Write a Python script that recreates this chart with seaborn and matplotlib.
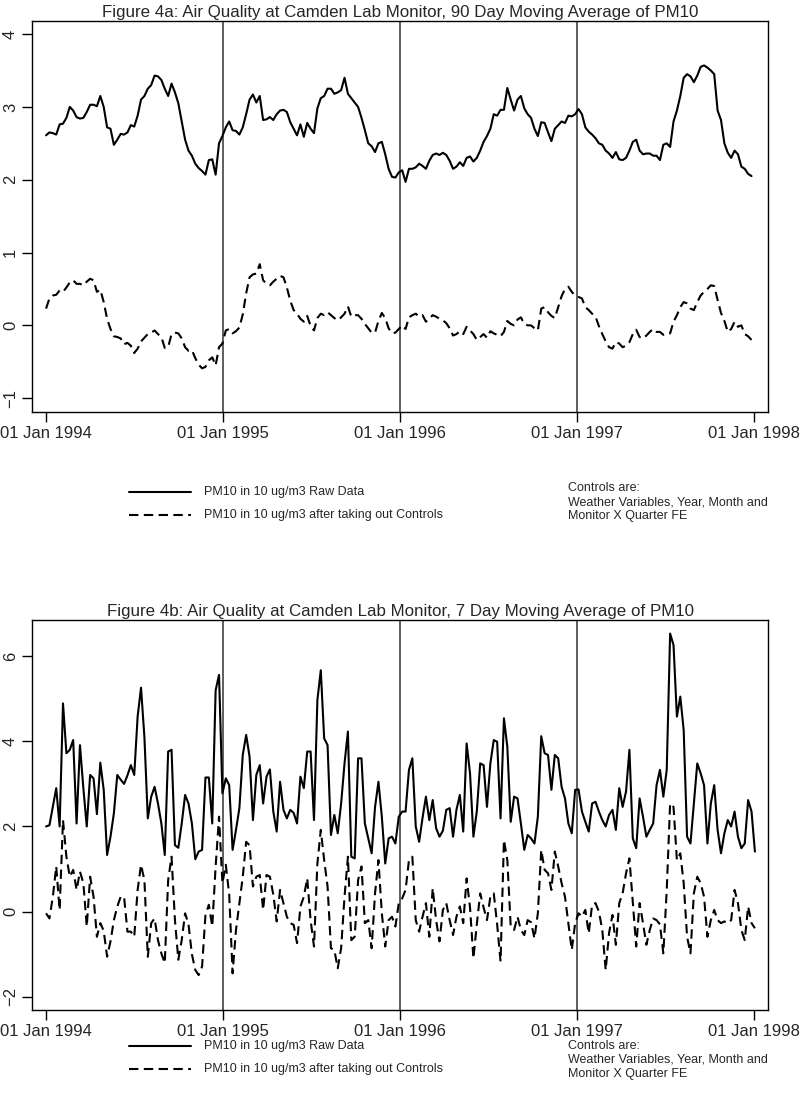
import numpy as np
import pandas as pd
import matplotlib
matplotlib.use("Agg")
import matplotlib.pyplot as plt
import matplotlib.dates as mdates
from matplotlib.lines import Line2D
import seaborn as sns

# ------------------------------------------------------------------
# Data: weekly points (PM10 in 10 ug/m3)
# ------------------------------------------------------------------
raw_90 = [
    2.61, 2.65, 2.64, 2.62, 2.76, 2.77, 2.85, 3.00, 2.95, 2.86,
    2.84, 2.85, 2.93, 3.03, 3.03, 3.01, 3.15, 3.00, 2.72, 2.70,
    2.48, 2.55, 2.63, 2.62, 2.65, 2.75, 2.73, 2.88, 3.10, 3.15,
    3.25, 3.30, 3.43, 3.42, 3.37, 3.25, 3.15, 3.32, 3.20, 3.05,
    2.80, 2.55, 2.40, 2.33, 2.22, 2.16, 2.12, 2.07, 2.27, 2.28,
    2.07, 2.50, 2.60, 2.72, 2.80, 2.68, 2.67, 2.62, 2.72, 2.90,
    3.10, 3.17, 3.06, 3.15, 2.82, 2.83, 2.86, 2.82, 2.90, 2.95,
    2.96, 2.93, 2.79, 2.70, 2.61, 2.76, 2.59, 2.78, 2.70, 2.64,
    2.98, 3.12, 3.15, 3.25, 3.25, 3.18, 3.20, 3.23, 3.40, 3.18,
    3.12, 3.06, 3.00, 2.85, 2.68, 2.50, 2.46, 2.38, 2.50, 2.52,
    2.35, 2.15, 2.04, 2.03, 2.10, 2.13, 1.97, 2.15, 2.15, 2.17,
    2.22, 2.19, 2.15, 2.26, 2.34, 2.36, 2.34, 2.37, 2.34, 2.26,
    2.15, 2.18, 2.24, 2.19, 2.30, 2.32, 2.25, 2.30, 2.40, 2.52,
    2.60, 2.70, 2.90, 2.88, 2.96, 2.96, 3.26, 3.10, 2.95, 3.10,
    3.15, 2.98, 2.90, 2.85, 2.70, 2.60, 2.79, 2.78, 2.65, 2.53,
    2.70, 2.75, 2.80, 2.78, 2.88, 2.87, 2.90, 2.97, 2.90, 2.72,
    2.66, 2.62, 2.57, 2.50, 2.48, 2.40, 2.36, 2.30, 2.38, 2.28,
    2.27, 2.30, 2.40, 2.52, 2.55, 2.40, 2.35, 2.36, 2.36, 2.33,
    2.33, 2.27, 2.48, 2.50, 2.45, 2.80, 2.95, 3.15, 3.40, 3.45,
    3.42, 3.34, 3.43, 3.55, 3.57, 3.54, 3.50, 3.45, 2.95, 2.82,
    2.50, 2.37, 2.30, 2.40, 2.35, 2.18, 2.15, 2.08, 2.05,
]
ctrl_90 = [
    0.23, 0.37, 0.41, 0.42, 0.48, 0.46, 0.52, 0.59, 0.62, 0.57,
    0.57, 0.55, 0.60, 0.64, 0.62, 0.46, 0.49, 0.32, 0.09, -0.05,
    -0.15, -0.16, -0.18, -0.26, -0.24, -0.28, -0.38, -0.32, -0.22, -0.17,
    -0.12, -0.10, -0.07, -0.12, -0.16, -0.31, -0.30, -0.12, -0.10, -0.11,
    -0.18, -0.30, -0.35, -0.34, -0.45, -0.54, -0.59, -0.57, -0.48, -0.44,
    -0.55, -0.30, -0.25, -0.07, -0.05, -0.11, -0.08, -0.03, 0.15, 0.44,
    0.66, 0.70, 0.71, 0.84, 0.62, 0.57, 0.55, 0.60, 0.64, 0.68,
    0.66, 0.52, 0.34, 0.21, 0.16, 0.09, 0.05, 0.13, -0.01, -0.07,
    0.10, 0.16, 0.14, 0.18, 0.14, 0.10, 0.07, 0.11, 0.16, 0.26,
    0.12, 0.14, 0.14, 0.09, 0.02, -0.04, -0.10, -0.10, 0.06, 0.17,
    0.10, -0.04, -0.11, -0.10, -0.05, 0.00, -0.05, 0.11, 0.14, 0.16,
    0.12, 0.14, 0.05, 0.09, 0.14, 0.12, 0.09, 0.07, 0.03, -0.04,
    -0.14, -0.12, -0.08, -0.12, -0.02, -0.07, -0.12, -0.20, -0.16, -0.12,
    -0.17, -0.08, -0.11, -0.13, -0.15, -0.09, 0.06, 0.02, 0.00, 0.08,
    0.11, 0.02, 0.00, 0.00, -0.04, -0.07, 0.23, 0.25, 0.18, 0.13,
    0.10, 0.25, 0.40, 0.50, 0.53, 0.46, 0.41, 0.39, 0.37, 0.25,
    0.21, 0.16, 0.12, -0.01, -0.12, -0.22, -0.30, -0.32, -0.23, -0.25,
    -0.30, -0.28, -0.23, -0.12, -0.06, -0.16, -0.18, -0.14, -0.09, -0.05,
    -0.09, -0.09, -0.13, -0.11, -0.11, 0.05, 0.14, 0.25, 0.32, 0.30,
    0.23, 0.21, 0.32, 0.41, 0.46, 0.50, 0.55, 0.54, 0.35, 0.17,
    0.06, -0.09, -0.05, 0.05, -0.02, 0.00, -0.12, -0.15, -0.20,
]

raw_7 = [
    # 1994
    2.00, 2.03, 2.46, 2.90, 2.00, 4.89, 3.72, 3.80, 4.03, 2.07,
    3.91, 2.90, 2.00, 3.21, 3.13, 2.29, 3.50, 2.86, 1.33, 1.76,
    2.31, 3.21, 3.10, 3.00, 3.20, 3.44, 3.21, 4.58, 5.26, 4.10,
    2.19, 2.70, 2.93, 2.54, 2.07, 1.33, 3.76, 3.80, 1.56, 1.50,
    2.07, 2.74, 2.54, 2.07, 1.23, 1.41, 1.45, 3.15, 3.15, 2.07,
    5.20, 5.56,
    # 1995
    2.78, 3.13, 2.97, 1.45, 1.92, 2.43, 3.68, 4.15, 3.64, 2.15,
    3.21, 3.44, 2.54, 3.17, 3.34, 2.35, 1.88, 3.05, 2.39, 2.19,
    2.39, 2.32, 2.07, 3.17, 2.90, 3.76, 3.76, 2.15, 4.97, 5.67,
    4.07, 3.91, 1.80, 2.27, 1.84, 2.54, 3.48, 4.23, 1.29, 1.25,
    3.60, 3.60, 2.07, 1.72, 1.37, 2.46, 3.05, 2.23, 1.13, 1.72,
    1.76, 1.60,
    # 1996
    2.23, 2.35, 2.35, 3.33, 3.60, 2.00, 1.64, 2.20, 2.70, 2.15,
    2.62, 1.96, 1.76, 1.90, 2.39, 2.43, 1.76, 2.39, 2.74, 1.88,
    3.95, 3.25, 1.76, 2.35, 3.48, 3.44, 2.46, 3.48, 4.03, 3.99,
    2.19, 4.54, 3.87, 2.11, 2.70, 2.66, 2.07, 1.45, 1.80, 1.72,
    1.60, 2.23, 4.12, 3.72, 3.68, 2.86, 3.68, 3.60, 2.93, 2.66,
    2.07, 1.84, 2.86, 2.87,
    # 1997
    2.35, 2.11, 1.88, 2.54, 2.58, 2.35, 2.15, 2.00, 2.27, 2.39,
    1.92, 2.90, 2.46, 2.82, 3.80, 1.72, 1.49, 2.66, 2.23, 1.76,
    1.92, 2.07, 2.97, 3.33, 2.70, 3.33, 6.53, 6.26, 4.58, 5.05,
    4.26, 1.76, 1.60, 2.54, 3.48, 3.25, 2.97, 1.60, 2.54, 2.97,
    1.92, 1.37, 1.84, 2.15, 2.00, 2.35, 1.76, 1.49, 1.60, 2.62,
    2.35, 1.41,
]
ctrl_7 = [
    # 1994
    -0.04, -0.16, 0.35, 1.06, 0.04, 2.15, 1.29, 0.82, 0.98, 0.51,
    0.94, 0.67, -0.35, 0.82, 0.35, -0.59, -0.27, -0.45, -1.06, -0.70,
    -0.20, 0.12, 0.35, 0.35, -0.47, -0.47, -0.59, 0.51, 1.10, 0.74,
    -1.06, -0.27, -0.16, -0.67, -0.98, -1.21, 0.74, 1.29, -0.20, -1.13,
    -0.67, -0.04, -0.30, -1.00, -1.37, -1.49, -1.29, -0.08, 0.16, -0.35,
    1.06, 2.23,
    # 1995
    0.67, 1.10, 0.40, -1.45, -0.43, 0.20, 0.82, 1.64, 1.56, 0.59,
    0.82, 0.86, 0.04, 0.86, 0.82, 0.40, -0.23, 0.51, 0.20, -0.12,
    -0.27, -0.31, -0.74, 0.12, 0.35, 0.78, -0.20, -0.82, 1.13, 1.92,
    1.21, 0.59, -0.86, -0.90, -1.33, -0.86, 0.35, 1.29, -0.67, -0.59,
    0.74, 1.06, -0.27, -0.20, -0.86, 0.43, 1.21, -0.04, -0.82, -0.20,
    -0.12, -0.35,
    # 1996
    0.20, 0.31, 0.51, 1.21, 1.29, -0.20, -0.47, -0.12, 0.20, -0.59,
    0.55, -0.20, -0.70, 0.04, 0.20, -0.20, -0.55, -0.12, 0.12, -0.27,
    0.78, 0.10, -1.10, -0.30, 0.43, 0.10, -0.20, 0.35, 0.43, -0.30,
    -1.17, 1.68, 1.21, -0.35, -0.43, -0.12, -0.43, -0.55, -0.20, -0.25,
    -0.63, -0.04, 1.45, 0.98, 0.90, 0.51, 1.41, 1.06, 0.67, 0.35,
    -0.27, -0.90, -0.27, -0.04,
    # 1997
    -0.12, 0.04, -0.51, 0.16, 0.20, 0.00, -0.43, -1.37, -0.50, -0.08,
    -0.78, 0.20, 0.43, 0.90, 1.25, 0.20, -0.82, 0.20, -0.27, -0.78,
    -0.43, -0.16, -0.20, -0.30, -0.98, 0.51, 2.54, 2.46, 1.21, 1.37,
    0.67, -0.59, -0.98, 0.43, 0.82, 0.67, 0.35, -0.59, -0.20, 0.04,
    -0.20, -0.27, -0.23, -0.27, -0.20, 0.51, 0.20, -0.43, -0.67, 0.12,
    -0.27, -0.39,
]

start_date = "1994-01-01"
year_ticks = ["1994-01-01", "1995-01-01", "1996-01-01", "1997-01-01", "1998-01-01"]
year_lines = ["1995-01-01", "1996-01-01", "1997-01-01"]
yticks_90 = [-1, 0, 1, 2, 3, 4]
yticks_7 = [-2, 0, 2, 4, 6]

titles = [
    "Figure 4a: Air Quality at Camden Lab Monitor, 90 Day Moving Average of PM10",
    "Figure 4b: Air Quality at Camden Lab Monitor, 7 Day Moving Average of PM10",
]
legend_labels = ["PM10 in 10 ug/m3 Raw Data",
                 "PM10 in 10 ug/m3 after taking out Controls"]
note_lines = ["Controls are:",
              "Weather Variables, Year, Month and",
              "Monitor X Quarter FE"]

# ------------------------------------------------------------------
sns.set_style("white")
plt.rcParams["font.family"] = ["Liberation Sans", "DejaVu Sans"]

LW = 1.5
DASH = (4.5, 2.6)


def make_frame(raw, ctrl):
    dates = pd.date_range(start_date, periods=len(raw), freq="7D")
    return pd.DataFrame({
        "date": np.concatenate([dates, dates]),
        "value": np.concatenate([raw, ctrl]),
        "series": ["raw"] * len(raw) + ["ctrl"] * len(ctrl),
    })


def draw_panel(ax, df, yticks, ylim, title):
    sns.lineplot(data=df, x="date", y="value", style="series",
                 dashes={"raw": "", "ctrl": DASH}, color="black",
                 linewidth=LW, legend=False, ax=ax)
    for d in year_lines:
        ax.axvline(pd.Timestamp(d), color="#333333", lw=1.1, zorder=0)
    ax.set_xlim(pd.Timestamp("1993-12-03"), pd.Timestamp("1998-01-30"))
    ax.set_ylim(*ylim)
    ax.set_xticks([pd.Timestamp(d) for d in year_ticks])
    ax.xaxis.set_major_formatter(mdates.DateFormatter("%d %b %Y"))
    ax.set_yticks(yticks)
    ax.set_xlabel("")
    ax.set_ylabel("")
    ax.tick_params(axis="both", direction="out", length=7, width=1.0,
                   color="black", labelsize=12, pad=3,
                   bottom=True, left=True, top=False, right=False)
    for lab in ax.get_yticklabels():
        lab.set_rotation(90)
        lab.set_va("center")
    for sp in ax.spines.values():
        sp.set_color("black")
        sp.set_linewidth(1.0)
    ax.set_title(title, fontsize=12.2, pad=3)


def draw_legend(fig, y_raw, y_ctrl, y_note):
    H = 1094.0
    x0, x1, xt = 129 / 800, 191 / 800, 204 / 800
    for y, ls, lab in [(y_raw, "-", legend_labels[0]),
                       (y_ctrl, (0, DASH), legend_labels[1])]:
        fy = 1 - y / H
        fig.add_artist(Line2D([x0, x1], [fy, fy], color="black",
                              lw=LW, linestyle=ls))
        fig.text(xt, fy, lab, fontsize=9, va="center", ha="left")
    for i, txt in enumerate(note_lines):
        fig.text(568 / 800, 1 - (y_note + 14 * i) / H, txt, fontsize=9,
                 va="center", ha="left")


fig = plt.figure(figsize=(8, 10.94), dpi=100)
ax_top = fig.add_axes([0.04, 0.6234, 0.92, 0.3574])
ax_bot = fig.add_axes([0.04, 0.0768, 0.92, 0.3565])

draw_panel(ax_top, make_frame(raw_90, ctrl_90), yticks_90, (-1.19, 4.18), titles[0])
draw_panel(ax_bot, make_frame(raw_7, ctrl_7), yticks_7, (-2.31, 6.85), titles[1])

draw_legend(fig, 492, 515, 488)
draw_legend(fig, 1046, 1069, 1046)

fig.savefig("out.png", dpi=100, facecolor="white")
